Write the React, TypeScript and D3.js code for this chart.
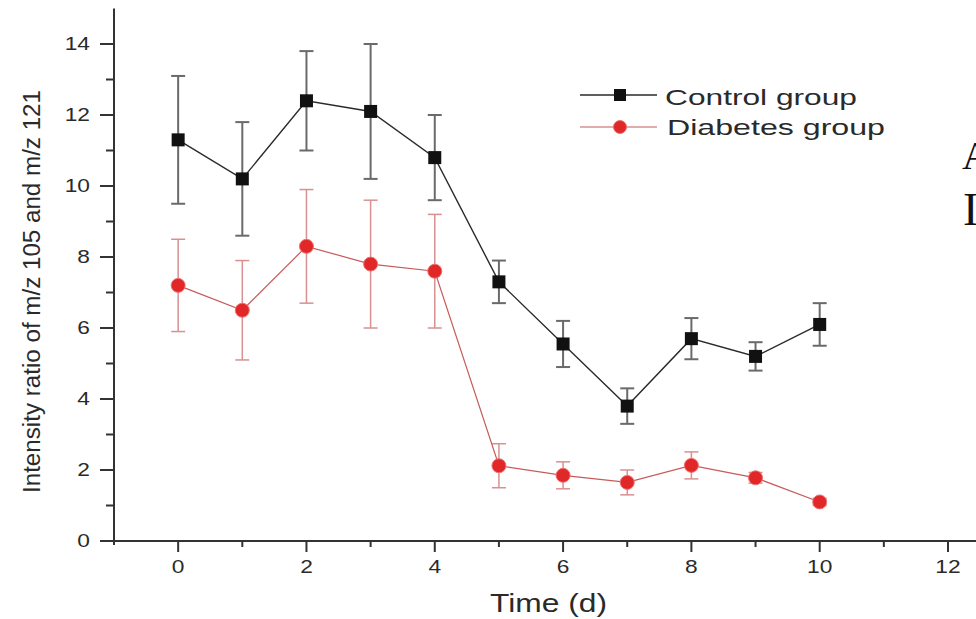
import React from 'react'
import * as d3 from 'd3'

const W = 976
const H = 619

// time points (days)
const days = [0, 1, 2, 3, 4, 5, 6, 7, 8, 9, 10]
const controlMean = [11.3, 10.2, 12.4, 12.1, 10.8, 7.3, 5.55, 3.8, 5.7, 5.2, 6.1]
const controlSd = [1.8, 1.6, 1.4, 1.9, 1.2, 0.6, 0.65, 0.5, 0.58, 0.4, 0.6]
const diabetesMean = [7.2, 6.5, 8.3, 7.8, 7.6, 2.12, 1.85, 1.65, 2.13, 1.78, 1.1]
const diabetesSd = [1.3, 1.4, 1.6, 1.8, 1.6, 0.62, 0.38, 0.35, 0.38, 0.15, 0.1]

const yTicks = [0, 2, 4, 6, 8, 10, 12, 14]
const yMinor = [1, 3, 5, 7, 9, 11, 13]
const xTicks = [0, 2, 4, 6, 8, 10, 12]
const xMinor = [1, 3, 5, 7, 9, 11]

const legendNames = ['Control group', 'Diabetes group']

const FONT = "'Liberation Sans', Arial, sans-serif"
const TXT = '#2a2a2a'

const App = () => {
  const x = d3.scaleLinear().domain([-1, 12]).range([114, 948])
  const y = d3.scaleLinear().domain([0, 15]).range([541, 8.5])

  const line = d3.line<number>()
    .x((_, i) => x(days[i]))
    .y(d => y(d))

  const errBars = (mean: number[], sd: number[], color: string, w: number) =>
    mean.map((m, i) => {
      const cx = x(days[i])
      return (
        <g key={i} stroke={color} strokeWidth={w}>
          <line x1={cx} x2={cx} y1={y(m + sd[i])} y2={y(m - sd[i])} />
          <line x1={cx - 7} x2={cx + 7} y1={y(m + sd[i])} y2={y(m + sd[i])} />
          <line x1={cx - 7} x2={cx + 7} y1={y(m - sd[i])} y2={y(m - sd[i])} />
        </g>
      )
    })

  const axisX0 = x(-1)
  const axisY0 = y(0)

  return (
    <svg width={W} height={H} style={{ position: 'absolute', left: 0, top: 0, background: '#fff' }}>
      {/* error bars */}
      {errBars(controlMean, controlSd, '#6a6a6a', 2)}
      {errBars(diabetesMean, diabetesSd, '#d89090', 1.5)}

      {/* lines */}
      <path d={line(controlMean) || ''} fill="none" stroke="#2a2a2a" strokeWidth={1.4} />
      <path d={line(diabetesMean) || ''} fill="none" stroke="#c85a5a" strokeWidth={1.2} />

      {/* markers */}
      {controlMean.map((m, i) => (
        <rect key={i} x={x(days[i]) - 6.5} y={y(m) - 6.5} width={13} height={13} fill="#111" />
      ))}
      {diabetesMean.map((m, i) => (
        <circle key={i} cx={x(days[i])} cy={y(m)} r={7} fill="#e02828" stroke="#f07070" strokeWidth={1} />
      ))}

      {/* axes */}
      <g stroke="#333" strokeWidth={2}>
        <line x1={axisX0} x2={axisX0} y1={y(15)} y2={axisY0 + 4} />
        <line x1={axisX0 - 1} x2={W + 10} y1={axisY0} y2={axisY0} />
        {yTicks.map(t => <line key={'y' + t} x1={axisX0 - 14} x2={axisX0} y1={y(t)} y2={y(t)} />)}
        {yMinor.map(t => <line key={'ym' + t} x1={axisX0 - 8} x2={axisX0} y1={y(t)} y2={y(t)} />)}
        {xTicks.map(t => <line key={'x' + t} x1={x(t)} x2={x(t)} y1={axisY0} y2={axisY0 + 11} />)}
        {xMinor.map(t => <line key={'xm' + t} x1={x(t)} x2={x(t)} y1={axisY0} y2={axisY0 + 6} />)}
      </g>

      <g fontFamily={FONT} fontSize={17.5} fill={TXT}>
        {yTicks.map(t => (
          <text key={t} transform={`translate(90,${y(t) + 6}) scale(1.3,1)`} textAnchor="end">{t}</text>
        ))}
        {xTicks.map(t => (
          <text key={t} transform={`translate(${x(t)},573) scale(1.3,1)`} textAnchor="middle">{t}</text>
        ))}
      </g>

      {/* axis titles */}
      <text x={490} y={612} fontFamily={FONT} fontSize={25} fill={TXT}
        textLength={117} lengthAdjust="spacingAndGlyphs">Time (d)</text>
      <text transform="translate(40,493) rotate(-90)" fontFamily={FONT} fontSize={23} fill={TXT}
        textLength={403} lengthAdjust="spacingAndGlyphs">Intensity ratio of m/z 105 and m/z 121</text>

      {/* legend */}
      <g>
        <line x1={580} x2={657} y1={95} y2={95} stroke="#2a2a2a" strokeWidth={1.4} />
        <rect x={614} y={89} width={12} height={12} fill="#111" />
        <text x={665} y={105} fontFamily={FONT} fontSize={22} fill={TXT}
          textLength={192} lengthAdjust="spacingAndGlyphs">{legendNames[0]}</text>
        <line x1={580} x2={657} y1={127} y2={127} stroke="#c85a5a" strokeWidth={1.2} />
        <circle cx={620} cy={127} r={6.5} fill="#e02828" stroke="#f07070" strokeWidth={1} />
        <text x={667} y={135} fontFamily={FONT} fontSize={22} fill={TXT}
          textLength={218} lengthAdjust="spacingAndGlyphs">{legendNames[1]}</text>
      </g>

      {/* cut-off page text at right edge */}
      <text x={962} y={169} fontFamily="'Liberation Serif', 'Times New Roman', serif" fontSize={40} fill="#111">A</text>
      <text x={963} y={225} fontFamily="'Liberation Serif', 'Times New Roman', serif" fontSize={46} fill="#111">I</text>
    </svg>
  )
}

export default App
